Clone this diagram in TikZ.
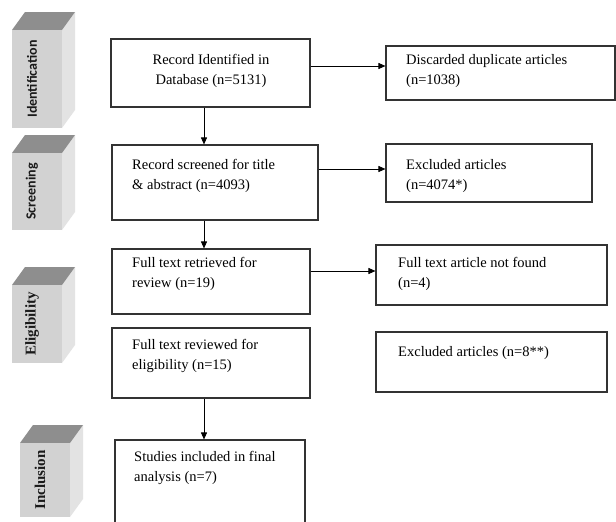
\documentclass[tikz,border=0pt]{standalone}
\usepackage{fontspec}
\setmainfont{Liberation Serif}
\newfontfamily\calibfont{Carlito}
\usetikzlibrary{arrows.meta}
\definecolor{frontgray}{HTML}{D2D2D2}
\definecolor{topgray}{HTML}{8E8E8E}
\definecolor{sidegray}{HTML}{E3E3E3}
\definecolor{labelink}{HTML}{1A1A1A}
\definecolor{boxline}{HTML}{333333}
\newcommand\stageblk[6]{%
  \fill[sidegray] (#1+50,#2) -- (#1+63,#2-18) -- (#1+63,#3-18) -- (#1+50,#3) -- cycle;
  \fill[topgray] (#1,#2) -- (#1+13,#2-18) -- (#1+63,#2-18) -- (#1+50,#2) -- cycle;
  \fill[frontgray] (#1,#2) rectangle (#1+50,#3);
  \node[stagetxt,font=#5] (#4) at (#1+20,{(#2+#3)/2}) {#6};
}
\begin{document}
\begin{tikzpicture}[x=1pt,y=-1pt,
  box/.style={draw=boxline, line width=1.1pt, inner sep=0pt},
  conn/.style={draw=black, line width=0.9pt, -{Triangle[length=7pt,width=6pt]}},
  txt/.style={inner sep=0pt, font=\fontsize{14.5}{20}\selectfont, align=left, text=black},
  stagetxt/.style={rotate=90, inner sep=0pt, text=labelink}]
\useasboundingbox[fill=white] (0,0) rectangle (616,522);

% stage blocks
\stageblk{12}{30}{128}{sIdent}{\calibfont\bfseries\fontsize{14}{16}\selectfont}{Identification}
\stageblk{12}{153}{230}{sScreen}{\calibfont\bfseries\fontsize{14}{16}\selectfont}{Screening}
\stageblk{12}{285}{363}{sElig}{\bfseries\fontsize{15}{16}\selectfont}{Eligibility}
\stageblk{20}{443}{517}{sIncl}{\bfseries\fontsize{15}{16}\selectfont}{Inclusion}

% boxes
\node[box, minimum width=199pt, minimum height=68pt] (b1) at (210.5,73) {};
\node[box, minimum width=206pt, minimum height=75pt] (b2) at (215,182.5) {};
\node[box, minimum width=229pt, minimum height=54pt] (b3) at (500.5,73) {};
\node[box, minimum width=206pt, minimum height=58pt] (b4) at (489,173) {};
\node[box, minimum width=198pt, minimum height=65pt] (b5) at (211,281.5) {};
\node[box, minimum width=231pt, minimum height=60pt] (b6) at (491.5,275) {};
\node[box, minimum width=198pt, minimum height=70pt] (b7) at (211,363) {};
\node[box, minimum width=231pt, minimum height=60pt] (b8) at (491.5,362) {};
\node[box, minimum width=190pt, minimum height=100pt] (b9) at (210,490) {};

% texts
\node[txt, anchor=north, align=center] (t1) at (211,54.5) {Record Identified in\\Database (n=5131)};
\node[txt, anchor=north west] (t2) at (132,159.5) {Record screened for title\\\& abstract (n=4093)};
\node[txt, anchor=north west] (t3) at (406,54.5) {Discarded duplicate articles\\(n=1038)};
\node[txt, anchor=north west] (t4) at (406,159.5) {Excluded articles\\(n=4074*)};
\node[txt, anchor=north west] (t5) at (132,257.5) {Full text retrieved for\\review (n=19)};
\node[txt, anchor=north west] (t6) at (398,257.5) {Full text article not found\\(n=4)};
\node[txt, anchor=north west] (t7) at (132,339.5) {Full text reviewed for\\eligibility (n=15)};
\node[txt, anchor=north west] (t8) at (398,346.5) {Excluded articles (n=8**)};
\node[txt, anchor=north west] (t9) at (134,451.5) {Studies included in final\\analysis (n=7)};

% connectors
\draw[conn] ([yshift=7pt]b1.east) -- ([yshift=7pt]b1.east -| b3.west);
\draw[conn] ([yshift=13.5pt]b2.east) -- ([yshift=13.5pt]b2.east -| b4.west);
\draw[conn] ([yshift=10.5pt]b5.east) -- ([yshift=10.5pt]b5.east -| b6.west);
\draw[conn] ([xshift=-6.5pt]b1.south) -- ([xshift=-6.5pt]b1.south |- b2.north);
\draw[conn] ([xshift=-11pt]b2.south) -- ([xshift=-11pt]b2.south |- b5.north);
\draw[conn] ([xshift=-7pt]b7.south) -- ([xshift=-7pt]b7.south |- b9.north);
\end{tikzpicture}
\end{document}
